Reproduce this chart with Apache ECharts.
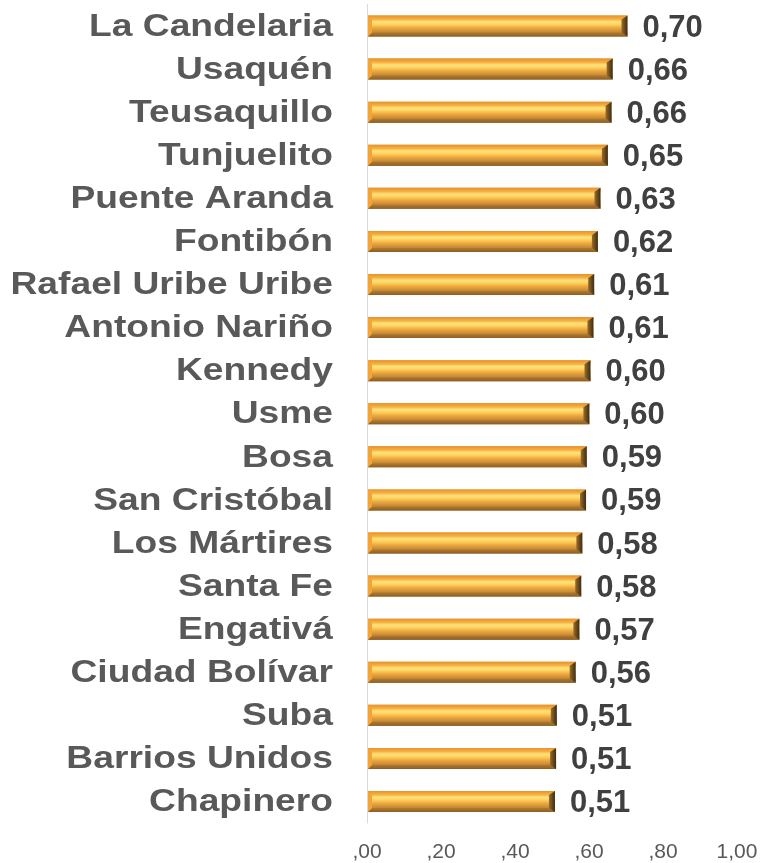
<!DOCTYPE html>
<html>
<head>
<meta charset="utf-8">
<script src="https://cdn.jsdelivr.net/npm/echarts@6/dist/echarts.min.js"></script>
<style>
html,body{margin:0;padding:0;background:#fff;}
#chart{width:765px;height:863px;}
</style>
</head>
<body>
<div id="chart"></div>
<script>
var categories = ['La Candelaria','Usaquén','Teusaquillo','Tunjuelito','Puente Aranda','Fontibón','Rafael Uribe Uribe','Antonio Nariño','Kennedy','Usme','Bosa','San Cristóbal','Los Mártires','Santa Fe','Engativá','Ciudad Bolívar','Suba','Barrios Unidos','Chapinero'];
var values = [0.704,0.664,0.661,0.651,0.631,0.624,0.614,0.612,0.604,0.601,0.594,0.592,0.582,0.579,0.574,0.564,0.513,0.511,0.508];
var xTicks = [0,0.2,0.4,0.6,0.8,1.0];

function fmtTick(v){
  var s = v.toFixed(2).replace('.', ',');
  if (s.indexOf('0,') === 0) s = s.substring(1);
  return s;
}

var chart = echarts.init(document.getElementById('chart'), null, {renderer:'canvas'});

function lg(x1,y1,x2,y2,stops){
  return new echarts.graphic.LinearGradient(x1,y1,x2,y2,stops.map(function(s){return {offset:s[0],color:s[1]};}));
}

function renderItem(params, api){
  var idx = api.value(0);
  var val = api.value(1);
  var p0 = api.coord([0, idx]);
  var p1 = api.coord([val, idx]);
  var h = 21;
  var x0 = p0[0] + 1, x1 = p1[0];
  var yc = p0[1];
  var y0 = yc - h/2, y1 = yc + h/2;
  var b = 4, br = 6;
  var children = [];
  children.push({type:'rect', shape:{x:x0, y:y0, width:x1-x0, height:h},
    style:{fill: lg(0,0,0,1,[[0,'#EE9A2E'],[0.18,'#F7B443'],[0.3,'#FFE37C'],[0.42,'#FFD260'],[0.6,'#EDA63C'],[0.8,'#C28838'],[1,'#9C6A28']])}});
  children.push({type:'polygon', shape:{points:[[x0,y0],[x1,y0],[x1-br,y0+b],[x0+b,y0+b]]},
    style:{fill: lg(0,0,0,1,[[0,'#E8902A'],[1,'#F6B445']])}});
  children.push({type:'polygon', shape:{points:[[x0+b,y1-b],[x1-br,y1-b],[x1,y1],[x0,y1]]},
    style:{fill: lg(0,0,0,1,[[0,'#B07A30'],[1,'#8E5E22']])}});
  children.push({type:'polygon', shape:{points:[[x0,y0],[x0+b,y0+b],[x0+b,y1-b],[x0,y1]]},
    style:{fill:'#F2A436'}});
  children.push({type:'polygon', shape:{points:[[x1-br,y0+b],[x1,y0],[x1,y1],[x1-br,y1-b]]},
    style:{fill: lg(0,0,1,0,[[0,'#9A6C28'],[1,'#3E2C12']])}});
  children.push({type:'text', x: x1 + 15, y: yc + 2,
    style:{text: val.toFixed(2).replace('.', ','), fill:'#404040',
      font:'bold 31px "Liberation Sans", Arial, sans-serif', align:'left', verticalAlign:'middle'}});
  children.push({type:'text', x: p0[0] - 34, y: yc + 1, scaleX: 1.2, scaleY: 1.02,
    style:{text: categories[idx], fill:'#595959',
      font:'bold 31px "Liberation Sans", Arial, sans-serif', align:'right', verticalAlign:'middle'}});
  return {type:'group', children: children};
}

var data = values.map(function(v,i){ return [i, v]; });

chart.setOption({
  animation:false,
  grid:{left:367, right:28, top:4.5, bottom:39.5, containLabel:false},
  xAxis:{type:'value', min:0, max:1, interval:0.2,
    axisLine:{show:false}, axisTick:{show:false}, splitLine:{show:false},
    axisLabel:{formatter:fmtTick, color:'#595959', fontSize:21, margin:19,
      fontFamily:'"Liberation Sans", Arial, sans-serif'}},
  yAxis:{type:'category', data:categories, inverse:true,
    axisLine:{show:true, lineStyle:{color:'#D9D9D9', width:1}},
    axisTick:{show:false}, axisLabel:{show:false}, splitLine:{show:false}},
  series:[{type:'custom', renderItem:renderItem, data:data, encode:{x:1, y:0}, clip:false}]
});
</script>
</body>
</html>
